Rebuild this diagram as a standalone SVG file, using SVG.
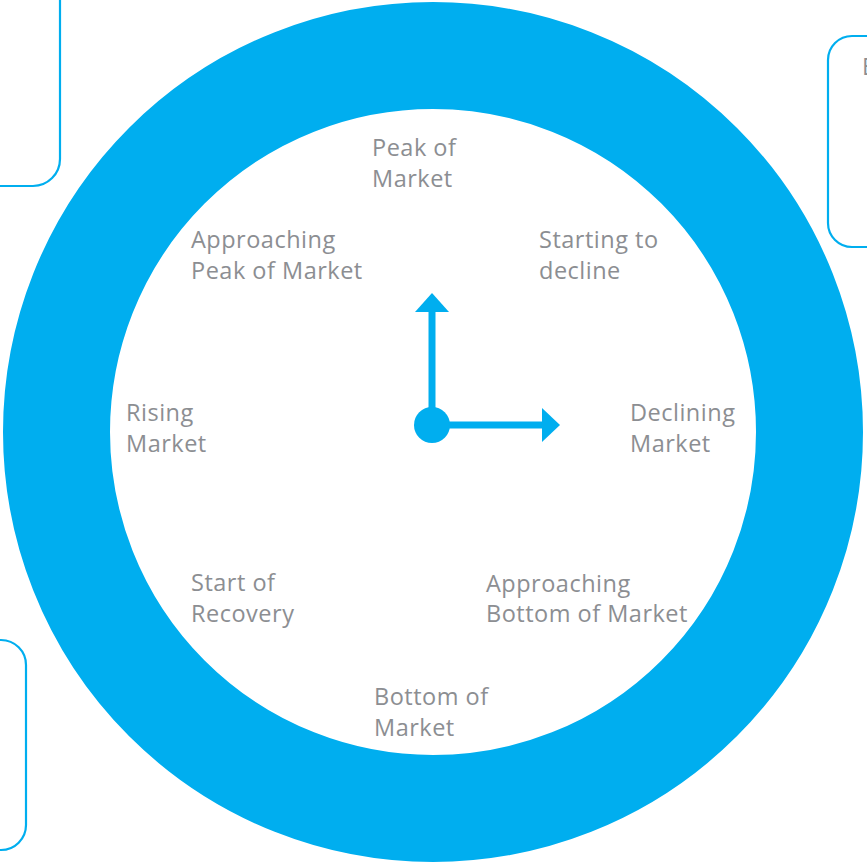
<svg xmlns="http://www.w3.org/2000/svg" width="867" height="867" viewBox="0 0 867 867">
<style>
.box{fill:none;stroke:#00aeef;stroke-width:2.2}
.lbl{font-family:"Open Sans","DejaVu Sans",sans-serif;font-weight:400;font-size:23.5px;letter-spacing:0.5px;fill:#8c8e92}
.blue{fill:#00aeef}
</style>
<rect width="867" height="867" fill="#ffffff"/>
<g id="box-top-left"><rect class="box" x="-40" y="-40" width="100" height="226" rx="27"/></g>
<g id="box-top-right"><rect class="box" x="828" y="36" width="80" height="211" rx="24"/><text class="lbl" x="862" y="75">E</text></g>
<g id="box-bottom-left"><rect class="box" x="-60" y="640" width="86" height="210" rx="25"/></g>
<g id="ring"><circle cx="433" cy="432" r="376.5" fill="none" stroke="#00aeef" stroke-width="107"/></g>
<g id="connectors">
<line x1="432" y1="425" x2="432" y2="310" stroke="#00aeef" stroke-width="7"/>
<polygon class="blue" points="432,293 449,312 415,312"/>
<line x1="432" y1="425" x2="544" y2="425" stroke="#00aeef" stroke-width="7"/>
<polygon class="blue" points="560,425 542,408 542,442"/>
<circle class="blue" cx="432" cy="425" r="18"/>
</g>
<g id="peak"><text class="lbl"><tspan x="372" y="156">Peak of</tspan><tspan x="372" y="187">Market</tspan></text></g>
<g id="approaching-peak"><text class="lbl"><tspan x="191" y="248">Approaching</tspan><tspan x="191" y="279">Peak of Market</tspan></text></g>
<g id="starting-decline"><text class="lbl"><tspan x="539" y="248">Starting to</tspan><tspan x="539" y="279">decline</tspan></text></g>
<g id="rising"><text class="lbl"><tspan x="126" y="421">Rising</tspan><tspan x="126" y="452">Market</tspan></text></g>
<g id="declining"><text class="lbl"><tspan x="630" y="421">Declining</tspan><tspan x="630" y="452">Market</tspan></text></g>
<g id="start-recovery"><text class="lbl"><tspan x="191" y="591">Start of</tspan><tspan x="191" y="622">Recovery</tspan></text></g>
<g id="approaching-bottom"><text class="lbl"><tspan x="486" y="592">Approaching</tspan><tspan x="486" y="622">Bottom of Market</tspan></text></g>
<g id="bottom"><text class="lbl"><tspan x="374" y="705">Bottom of</tspan><tspan x="374" y="736">Market</tspan></text></g>
</svg>
